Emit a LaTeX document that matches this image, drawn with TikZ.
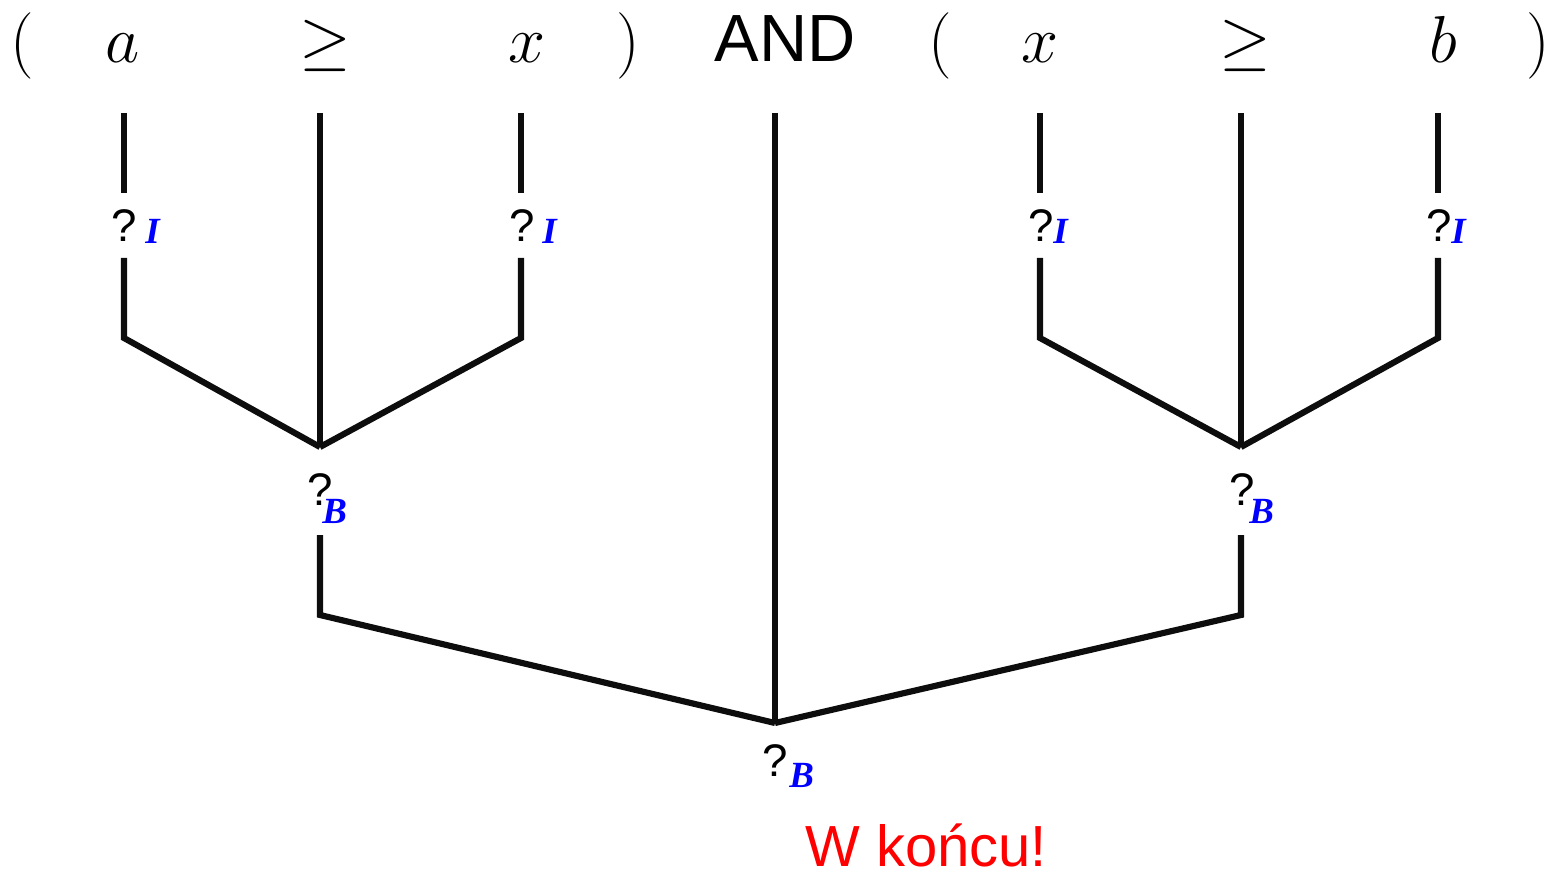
\documentclass[tikz,border=0pt]{standalone}
\usepackage{graphicx}
\usepackage{fontspec}
\setmainfont{Liberation Sans}
\newfontfamily\subfont{Liberation Serif}
\newcommand\topmath[1]{\scalebox{1.52}{$#1$}}
\begin{document}
\begin{tikzpicture}[x=0.02cm,y=-0.02cm,
  top/.style={anchor=base, inner sep=0pt, font=\fontsize{24.88}{28}\selectfont},
  andst/.style={anchor=base, inner sep=0pt, font=\fontsize{38}{40}\selectfont},
  qm/.style={anchor=base, inner sep=0pt, font=\fontsize{26}{28}\selectfont},
  sub/.style={anchor=base west, inner sep=0pt, text=blue, font=\subfont\bfseries\itshape\fontsize{21}{22}\selectfont},
  wire/.style={line width=3.5pt, line cap=butt, line join=miter, color=black!95},
  note/.style={anchor=base west, inner sep=0pt, text=red, font=\fontsize{33}{35}\selectfont}]
\useasboundingbox (0,0) rectangle (1561,874);

% top row
\node[top] (lp1) at (22,63) {\topmath{(}};
\node[top] (ta)  at (123,63) {\topmath{a}};
\node[top] (tg1) at (325,63) {\topmath{\geq}};
\node[top] (tx1) at (527,63) {\topmath{x}};
\node[top] (rp1) at (628,63) {\topmath{)}};
\node[andst] (and) at (785,62) {AND};
\node[top] (lp2) at (940,63) {\topmath{(}};
\node[top] (tx2) at (1040,63) {\topmath{x}};
\node[top] (tg2) at (1245,63) {\topmath{\geq}};
\node[top] (tb)  at (1443,63) {\topmath{b}};
\node[top] (rp2) at (1538,63) {\topmath{)}};

% ? labels
\node[qm] (q1) at (124,242) {?};
\node[sub] (s1) at (145,244) {I};
\node[qm] (q2) at (522,242) {?};
\node[sub] (s2) at (542,244) {I};
\node[qm] (q3) at (1041,242) {?};
\node[sub] (s3) at (1053,244) {I};
\node[qm] (q4) at (1439,242) {?};
\node[sub] (s4) at (1451,244) {I};
\node[qm] (q5) at (320,505) {?};
\node[sub] (s5) at (322,523) {B};
\node[qm] (q6) at (1242,505) {?};
\node[sub] (s6) at (1249,523) {B};
\node[qm] (q7) at (775,776) {?};
\node[sub] (s7) at (789,787) {B};

\node[note] (fin) at (805,866) {W końcu!};

% coordinates
\coordinate (a0) at (124,113); \coordinate (a1) at (124,193);
\coordinate (a2) at (124,258); \coordinate (a3) at (124,338);
\coordinate (g0) at (320,113); \coordinate (g1) at (320,447);
\coordinate (x0) at (521,113); \coordinate (x1) at (521,193);
\coordinate (x2) at (521,258); \coordinate (x3) at (521,338);
\coordinate (b0) at (320,535); \coordinate (b1) at (320,615);
\coordinate (m0) at (775,113); \coordinate (m1) at (775,723);
\coordinate (y0) at (1040,113); \coordinate (y1) at (1040,193);
\coordinate (y2) at (1040,258); \coordinate (y3) at (1040,338);
\coordinate (h0) at (1241,113); \coordinate (h1) at (1241,447);
\coordinate (c0) at (1438,113); \coordinate (c1) at (1438,193);
\coordinate (c2) at (1438,258); \coordinate (c3) at (1438,338);
\coordinate (d0) at (1241,535); \coordinate (d1) at (1241,615);

\draw[wire] (a0) -- (a1);
\draw[wire] (a2) -- (a3) -- (g1);
\draw[wire] (g0) -- (g1);
\draw[wire] (x0) -- (x1);
\draw[wire] (x2) -- (x3) -- (g1);
\draw[wire] (b0) -- (b1) -- (m1);
\draw[wire] (m0) -- (m1);
\draw[wire] (y0) -- (y1);
\draw[wire] (y2) -- (y3) -- (h1);
\draw[wire] (h0) -- (h1);
\draw[wire] (c0) -- (c1);
\draw[wire] (c2) -- (c3) -- (h1);
\draw[wire] (d0) -- (d1) -- (m1);
\end{tikzpicture}
\end{document}
